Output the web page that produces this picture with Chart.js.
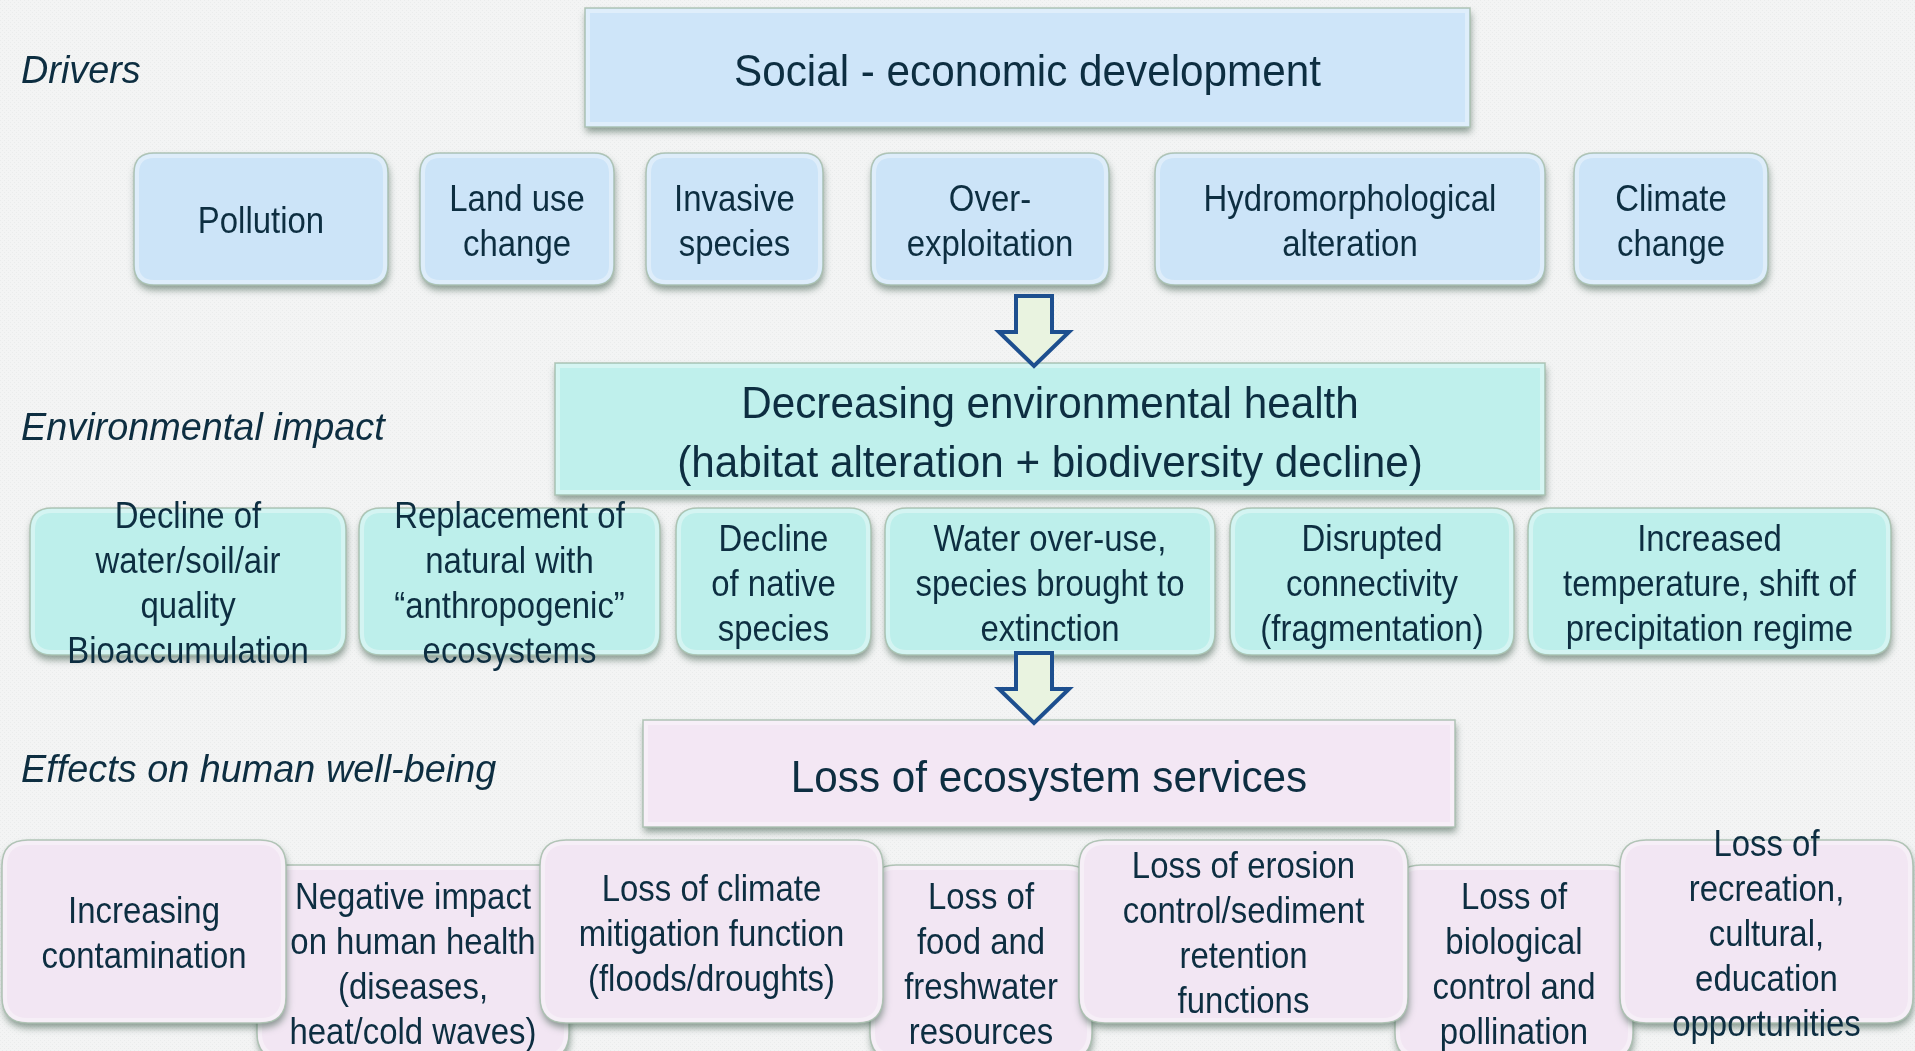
<!DOCTYPE html>
<html>
<head>
<meta charset="utf-8">
<script src="https://cdn.jsdelivr.net/npm/chart.js@4.4.1/dist/chart.umd.min.js"></script>
<style>
html,body{margin:0;padding:0;background:#f2f3f3;overflow:hidden}
#wrap{width:1915px;height:1051px;position:relative}
</style>
</head>
<body>
<div id="wrap"><canvas id="c" width="1915" height="1051"></canvas></div>
<script>
// ================= DATA =================
const rowTitles = ["Drivers", "Environmental impact", "Effects on human well-being"];
const headLabels = [
  "Social - economic development",
  "Decreasing environmental health\n(habitat alteration + biodiversity decline)",
  "Loss of ecosystem services"
];
const driverLabels = [
  "Pollution", "Land use\nchange", "Invasive\nspecies", "Over-\nexploitation",
  "Hydromorphological\nalteration", "Climate\nchange"
];
const impactLabels = [
  "Decline of\nwater/soil/air\nquality\nBioaccumulation",
  "Replacement of\nnatural with\n\u201canthropogenic\u201d\necosystems",
  "Decline\nof native\nspecies",
  "Water over-use,\nspecies brought to\nextinction",
  "Disrupted\nconnectivity\n(fragmentation)",
  "Increased\ntemperature, shift of\nprecipitation regime"
];
const effectLabels = [
  "Increasing\ncontamination",
  "Negative impact\non human health\n(diseases,\nheat/cold waves)",
  "Loss of climate\nmitigation function\n(floods/droughts)",
  "Loss of\nfood and\nfreshwater\nresources",
  "Loss of erosion\ncontrol/sediment\nretention\nfunctions",
  "Loss of\nbiological\ncontrol and\npollination",
  "Loss of\nrecreation,\ncultural,\neducation\nopportunities"
];

// ================= LAYOUT (diagram units, mapped through the scales) =================
const headSpans   = [[585, 1470, 8, 127], [555, 1545, 363, 495], [643, 1455, 720, 827]];
const driverSpans = [[134, 388], [420, 614], [646, 823], [871, 1109], [1155, 1545], [1574, 1768]];
const driverRow   = [153, 285];
const impactSpans = [[30, 346], [359, 660], [676, 871], [885, 1215], [1230, 1514], [1528, 1891]];
const impactRow   = [508, 655];
const effectSpans = [[2, 286, 840, 1023], [257, 569, 865, 1059], [540, 883, 840, 1023],
                     [870, 1092, 865, 1059], [1079, 1408, 840, 1023], [1395, 1633, 865, 1059],
                     [1620, 1913, 840, 1023]];
const titleAnchors = [[21, 83], [21, 440], [21, 782]];
const arrowSpans  = [[1034, 296, 366], [1034, 653, 723]];

// ================= STYLE =================
const TEXT = '#0d2e41';
const FONT = '"Liberation Sans", Arial, sans-serif';
const CAP = 0.358;   // half cap-height of the font, in em
const fills = {
  drivers: '#cce4f8', head1: '#cee5f9',
  impact:  '#bdefeb', head2: '#bff0ec',
  effect:  '#f2e6f3', head3: '#f3e7f4'
};

function roundPath(ctx, x0, y0, x1, y1, r) {
  ctx.beginPath();
  ctx.moveTo(x0 + r, y0);
  ctx.lineTo(x1 - r, y0);
  ctx.quadraticCurveTo(x1, y0, x1, y0 + r);
  ctx.lineTo(x1, y1 - r);
  ctx.quadraticCurveTo(x1, y1, x1 - r, y1);
  ctx.lineTo(x0 + r, y1);
  ctx.quadraticCurveTo(x0, y1, x0, y1 - r);
  ctx.lineTo(x0, y0 + r);
  ctx.quadraticCurveTo(x0, y0, x0 + r, y0);
  ctx.closePath();
}

function drawBox(ctx, x0, y0, x1, y1, r, fill) {
  ctx.save();
  ctx.shadowColor = 'rgba(55,85,70,0.55)';
  ctx.shadowBlur = 7;
  ctx.shadowOffsetX = 1;
  ctx.shadowOffsetY = 5;
  roundPath(ctx, x0, y0, x1, y1, r);
  ctx.fillStyle = fill;
  ctx.fill();
  ctx.restore();
  ctx.save();
  roundPath(ctx, x0, y0, x1, y1, r);
  ctx.lineWidth = 1.5;
  ctx.strokeStyle = 'rgba(170,192,175,0.9)';
  ctx.stroke();
  roundPath(ctx, x0 + 3, y0 + 3, x1 - 3, y1 - 3, Math.max(r - 3, 0));
  ctx.lineWidth = 4;
  ctx.strokeStyle = 'rgba(255,255,255,0.35)';
  ctx.stroke();
  ctx.restore();
}

// centred block of lines; cy = centre of the block (cap-centred)
function drawLines(ctx, text, cx, cy, size, lh, sq) {
  const lines = text.split('\n');
  ctx.save();
  ctx.font = size + 'px ' + FONT;
  ctx.fillStyle = TEXT;
  ctx.textAlign = 'center';
  ctx.textBaseline = 'alphabetic';
  const n = lines.length;
  lines.forEach((ln, i) => {
    const y = cy + (i - (n - 1) / 2) * lh + CAP * size;
    ctx.save();
    ctx.translate(cx, y);
    ctx.scale(sq, 1);
    ctx.fillText(ln, 0, 0);
    ctx.restore();
  });
  ctx.restore();
}

function drawTitle(ctx, text, x, baseline, size, sq) {
  ctx.save();
  ctx.font = 'italic ' + size + 'px ' + FONT;
  ctx.fillStyle = TEXT;
  ctx.textAlign = 'left';
  ctx.textBaseline = 'alphabetic';
  ctx.translate(x, baseline);
  ctx.scale(sq, 1);
  ctx.fillText(text, 0, 0);
  ctx.restore();
}

function drawArrow(ctx, cx, yTop, yTip, sh, hh, hl) {
  ctx.save();
  ctx.beginPath();
  ctx.moveTo(cx - sh, yTop);
  ctx.lineTo(cx + sh, yTop);
  ctx.lineTo(cx + sh, yTip - hl);
  ctx.lineTo(cx + hh, yTip - hl);
  ctx.lineTo(cx, yTip);
  ctx.lineTo(cx - hh, yTip - hl);
  ctx.lineTo(cx - sh, yTip - hl);
  ctx.closePath();
  ctx.fillStyle = '#e9f3e0';
  ctx.fill();
  ctx.lineWidth = 4;
  ctx.lineJoin = 'miter';
  ctx.strokeStyle = '#1d4f8f';
  ctx.stroke();
  ctx.restore();
}

const diagramPlugin = {
  id: 'diagram',
  beforeDraw(chart) {
    const ctx = chart.ctx;
    const pc = document.createElement('canvas');
    pc.width = 4; pc.height = 4;
    const p = pc.getContext('2d');
    p.fillStyle = '#f3f4f4'; p.fillRect(0, 0, 4, 4);
    p.fillStyle = '#eaecec'; p.fillRect(0, 0, 1, 1); p.fillRect(2, 2, 1, 1);
    ctx.save();
    ctx.fillStyle = ctx.createPattern(pc, 'repeat');
    ctx.fillRect(0, 0, chart.width, chart.height);
    ctx.restore();
  },
  afterDraw(chart) {
    const ctx = chart.ctx;
    const X = v => chart.scales.x.getPixelForValue(v);
    const Y = v => chart.scales.y.getPixelForValue(v);

    // row titles
    rowTitles.forEach((t, i) => drawTitle(ctx, t, X(titleAnchors[i][0]), Y(titleAnchors[i][1]), 39, 0.97));

    // head boxes
    const headFills = [fills.head1, fills.head2, fills.head3];
    headSpans.forEach((s, i) => drawBox(ctx, X(s[0]), Y(s[2]), X(s[1]), Y(s[3]), 0, headFills[i]));
    headSpans.forEach((s, i) => drawLines(ctx, headLabels[i], (X(s[0]) + X(s[1])) / 2,
      (Y(s[2]) + Y(s[3])) / 2 + 3, 44, 59, 0.96));

    // drivers
    driverSpans.forEach(s => drawBox(ctx, X(s[0]), Y(driverRow[0]), X(s[1]), Y(driverRow[1]), 20, fills.drivers));
    driverSpans.forEach((s, i) => drawLines(ctx, driverLabels[i], (X(s[0]) + X(s[1])) / 2,
      (Y(driverRow[0]) + Y(driverRow[1])) / 2 + 1, 37, 45, 0.89));

    // environmental impact
    impactSpans.forEach(s => drawBox(ctx, X(s[0]), Y(impactRow[0]), X(s[1]), Y(impactRow[1]), 22, fills.impact));
    impactSpans.forEach((s, i) => drawLines(ctx, impactLabels[i], (X(s[0]) + X(s[1])) / 2,
      (Y(impactRow[0]) + Y(impactRow[1])) / 2 + 1, 37, 45, 0.89));

    // effects: lower boxes first, upper boxes on top
    const order = [1, 3, 5, 0, 2, 4, 6];
    order.forEach(i => {
      const s = effectSpans[i];
      drawBox(ctx, X(s[0]), Y(s[2]), X(s[1]), Y(s[3]), 26, fills.effect);
    });
    effectSpans.forEach((s, i) => drawLines(ctx, effectLabels[i], (X(s[0]) + X(s[1])) / 2,
      (Y(s[2]) + Y(s[3])) / 2 + 1, 37, 45, 0.89));

    // arrows
    arrowSpans.forEach(a => drawArrow(ctx, X(a[0]), Y(a[1]), Y(a[2]), 18, 35, 34));
  }
};

new Chart(document.getElementById('c'), {
  type: 'scatter',
  data: { datasets: [{ data: [], pointRadius: 0 }] },
  options: {
    responsive: false,
    animation: false,
    events: [],
    devicePixelRatio: 1,
    layout: { padding: 0 },
    plugins: { legend: { display: false }, tooltip: { enabled: false }, title: { display: false } },
    scales: {
      x: { type: 'linear', min: 0, max: 1915, display: false },
      y: { type: 'linear', min: 0, max: 1051, reverse: true, display: false }
    }
  },
  plugins: [diagramPlugin]
});
</script>
</body>
</html>
